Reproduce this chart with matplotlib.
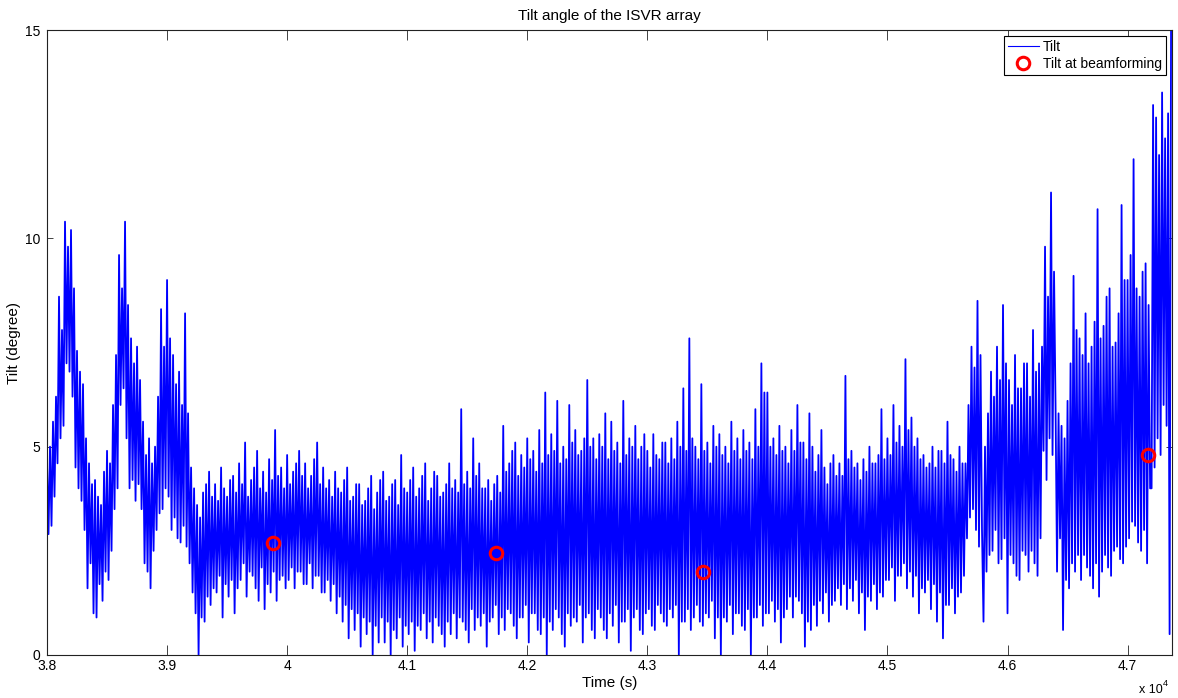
import numpy as np
import matplotlib
matplotlib.use("Agg")
import matplotlib.pyplot as plt
from matplotlib.lines import Line2D

plt.rcParams['font.family'] = ['Liberation Sans', 'DejaVu Sans']

# Tilt record, one sample every 12.5 s from t = 38000 s, in units of 0.1 degree
time_start = 38000.0
sample_step = 12.5

tilt_38k = [46, 29, 50, 31, 56, 38, 62, 46, 86, 52, 78, 55, 104, 70, 98, 68,
            102, 62, 88, 45, 73, 40, 68, 37, 65, 30, 52, 16, 46, 22, 41, 10,
            42, 9, 38, 17, 36, 13, 44, 20, 49, 18, 46, 25, 60, 35, 72, 40,
            96, 60, 88, 64, 104, 52, 84, 40, 76, 42, 70, 37, 74, 41, 66, 35,
            56, 22, 48, 20, 52, 16, 46, 25, 50, 30, 62, 34, 83, 35, 74, 40]
tilt_39k = [90, 38, 76, 30, 72, 33, 65, 28, 68, 27, 60, 31, 82, 26, 58, 22,
            45, 15, 40, 10, 36, 0, 33, 9, 39, 8, 41, 14, 44, 12, 38, 16,
            41, 15, 37, 19, 45, 9, 40, 17, 38, 14, 42, 18, 43, 10, 39, 16,
            46, 18, 41, 22, 51, 14, 38, 20, 42, 19, 45, 16, 49, 13, 40, 21,
            44, 11, 39, 17, 47, 15, 42, 20, 54, 13, 43, 18, 45, 19, 40, 16]
tilt_40k = [48, 18, 41, 21, 44, 16, 46, 20, 49, 20, 43, 17, 46, 17, 40, 22,
            43, 16, 47, 19, 51, 19, 41, 15, 45, 15, 40, 18, 42, 13, 38, 17,
            44, 10, 40, 14, 39, 8, 42, 12, 45, 4, 37, 11, 38, 6, 41, 10,
            41, 2, 36, 9, 37, 5, 40, 8, 43, 0, 35, 7, 39, 3, 42, 9,
            44, 3, 37, 8, 38, 0, 41, 6, 42, 4, 36, 9, 48, 2, 40, 7]
tilt_41k = [39, 5, 42, 8, 45, 1, 38, 7, 40, 6, 43, 10, 46, 4, 37, 8,
            40, 3, 44, 9, 43, 7, 38, 5, 39, 2, 41, 8, 46, 5, 40, 10,
            42, 4, 39, 9, 59, 8, 41, 6, 44, 3, 40, 11, 52, 6, 43, 9,
            46, 7, 40, 10, 40, 2, 42, 8, 37, 9, 41, 12, 43, 5, 39, 9,
            55, 6, 44, 11, 46, 10, 49, 7, 51, 4, 43, 9, 48, 9, 45, 12]
tilt_42k = [52, 3, 47, 10, 49, 10, 44, 6, 54, 5, 46, 9, 63, 0, 48, 8,
            53, 6, 49, 11, 61, 9, 46, 5, 50, 2, 47, 10, 60, 7, 51, 9,
            54, 8, 48, 12, 49, 3, 52, 9, 66, 10, 50, 6, 52, 4, 47, 11,
            53, 9, 50, 6, 58, 4, 47, 10, 56, 7, 49, 12, 51, 3, 46, 8,
            61, 8, 48, 11, 52, 1, 50, 9, 55, 11, 47, 6, 50, 5, 53, 10]
tilt_43k = [49, 11, 45, 7, 53, 6, 48, 12, 47, 10, 51, 8, 51, 7, 46, 11,
            52, 9, 47, 12, 56, 0, 50, 8, 64, 8, 49, 11, 76, 6, 52, 9,
            50, 12, 47, 8, 65, 7, 49, 10, 51, 9, 46, 13, 55, 4, 50, 9,
            53, 0, 48, 9, 50, 8, 46, 12, 56, 5, 49, 10, 52, 10, 47, 7,
            54, 6, 49, 11, 51, 0, 47, 9, 59, 9, 50, 12, 70, 7, 63, 10]
tilt_44k = [63, 10, 50, 13, 52, 8, 48, 11, 55, 3, 49, 9, 50, 11, 46, 14,
            54, 9, 49, 14, 60, 13, 51, 10, 51, 2, 47, 8, 58, 6, 50, 12,
            44, 7, 48, 13, 54, 10, 45, 15, 41, 8, 46, 12, 48, 13, 43, 16,
            46, 12, 43, 17, 67, 11, 47, 16, 49, 13, 45, 18, 46, 10, 42, 15,
            47, 6, 44, 14, 50, 13, 46, 17, 46, 11, 48, 15, 59, 14, 47, 18]
tilt_45k = [52, 18, 48, 21, 60, 13, 51, 19, 55, 19, 50, 22, 71, 16, 54, 20,
            57, 14, 50, 19, 52, 10, 47, 16, 48, 15, 45, 18, 46, 11, 50, 17,
            45, 8, 49, 15, 49, 4, 46, 12, 56, 12, 48, 16, 47, 10, 44, 14,
            50, 15, 46, 19, 46, 28, 60, 33, 74, 35, 69, 30, 85, 26, 72, 30,
            8, 50, 20, 58, 24, 68, 25, 62, 30, 74, 22, 66, 23, 84, 28, 70]
tilt_46k = [10, 66, 24, 60, 22, 72, 19, 64, 18, 64, 25, 70, 24, 70, 20, 62,
            25, 78, 22, 68, 19, 70, 28, 74, 49, 98, 42, 86, 52, 111, 48, 92,
            60, 20, 58, 28, 55, 6, 52, 18, 61, 16, 70, 22, 91, 20, 78, 24,
            76, 18, 72, 24, 82, 21, 70, 19, 74, 16, 80, 22, 107, 14, 76, 20,
            79, 24, 86, 21, 88, 19, 74, 25, 75, 26, 82, 23, 108, 22, 90, 26]
tilt_47k = [90, 28, 96, 32, 119, 31, 88, 27, 86, 25, 92, 30, 94, 22, 84, 40,
            40, 132, 45, 129, 52, 120, 48, 135, 60, 124, 55, 130, 5, 155]

tilt = 0.1 * np.array(tilt_38k + tilt_39k + tilt_40k + tilt_41k + tilt_42k
                      + tilt_43k + tilt_44k + tilt_45k + tilt_46k + tilt_47k)
time = time_start + sample_step * np.arange(len(tilt))

# Tilt at the moments beamforming was performed
beam_time = [39883, 41742, 43467, 47167]
beam_tilt = [2.70, 2.45, 2.00, 4.80]

xtick_values = [38000, 39000, 40000, 41000, 42000, 43000, 44000, 45000, 46000, 47000]
xtick_labels = ['3.8', '3.9', '4', '4.1', '4.2', '4.3', '4.4', '4.5', '4.6', '4.7']
ytick_values = [0, 5, 10, 15]

W, H = 1178, 698
fig = plt.figure(figsize=(W / 100, H / 100), dpi=100)
ax = fig.add_axes([47 / W, 1 - 655 / H, 1125 / W, 625 / H])

ax.plot(time, tilt, color='#0000ff', lw=1.3)
ax.plot(beam_time, beam_tilt, ls='none', marker='o', mfc='none',
        mec='#ff0000', ms=9, mew=2.2)

ax.set_xlim(38000, 47370)
ax.set_ylim(0, 15)
ax.set_xticks(xtick_values)
ax.set_xticklabels(xtick_labels)
ax.set_yticks(ytick_values)
ax.tick_params(axis='both', direction='in', top=True, right=True,
               labelsize=10, width=0.6, color='#222222')
ax.tick_params(axis='x', length=7, pad=3)
ax.tick_params(axis='y', length=4.5, pad=5)
for sp in ax.spines.values():
    sp.set_linewidth(0.8)
    sp.set_color('#222222')

ax.set_title('Tilt angle of the ISVR array', fontsize=11, pad=7)
ax.set_xlabel('Time (s)', fontsize=11, labelpad=2)
ax.set_ylabel('Tilt (degree)', fontsize=11, labelpad=3)

# axis multiplier
fig.text(1139 / W, 1 - 693 / H, 'x 10', fontsize=9)
fig.text(1163 / W, 1 - 686 / H, '4', fontsize=6.5)

handles = [Line2D([], [], color='#0000ff', lw=0.8),
           Line2D([], [], ls='none', marker='o', mfc='none',
                  mec='#ff0000', ms=9, mew=2.2)]
leg = ax.legend(handles, ['Tilt', 'Tilt at beamforming'], loc='upper right',
                bbox_to_anchor=(1 - 6 / 1125, 1 - 6 / 625), borderaxespad=0,
                fancybox=False, edgecolor='black', framealpha=1, fontsize=10,
                handlelength=2.2, handletextpad=0.3, borderpad=0.3,
                labelspacing=0.2)
leg.get_frame().set_linewidth(0.8)

fig.savefig('out.png', dpi=100)
